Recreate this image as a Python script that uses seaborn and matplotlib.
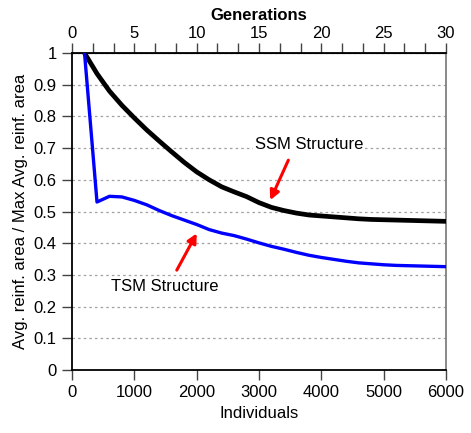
import numpy as np
import pandas as pd
import matplotlib
matplotlib.use("Agg")
import matplotlib.pyplot as plt
import seaborn as sns
from matplotlib.ticker import MultipleLocator, FixedLocator, FuncFormatter

# Individuals evaluated (one generation = 200 individuals)
individuals = [200, 400, 600, 800, 1000, 1200, 1400, 1600, 1800, 2000,
               2200, 2400, 2600, 2800, 3000, 3200, 3400, 3600, 3800, 4000,
               4200, 4400, 4600, 4800, 5000, 5200, 5400, 5600, 5800, 6000]

ssm_ratio = [1.000, 0.935, 0.880, 0.835, 0.795, 0.757, 0.722, 0.688, 0.655, 0.625,
             0.600, 0.578, 0.562, 0.547, 0.528, 0.513, 0.503, 0.495, 0.489, 0.486,
             0.483, 0.480, 0.477, 0.475, 0.474, 0.473, 0.472, 0.471, 0.470, 0.469]

tsm_ratio = [1.000, 0.530, 0.548, 0.546, 0.535, 0.521, 0.503, 0.487, 0.473, 0.459,
             0.443, 0.432, 0.424, 0.413, 0.401, 0.390, 0.381, 0.371, 0.362, 0.355,
             0.349, 0.343, 0.338, 0.335, 0.332, 0.330, 0.329, 0.328, 0.327, 0.326]

series_names = ["SSM Structure", "TSM Structure"]
generation_ticks = [0, 5, 10, 15, 20, 25, 30]
individuals_per_generation = 200

df = pd.DataFrame({
    "Individuals": individuals * 2,
    "ratio": ssm_ratio + tsm_ratio,
    "structure": [series_names[0]] * len(individuals) + [series_names[1]] * len(individuals),
})

sns.set_style("white")
plt.rcParams["font.family"] = ["Liberation Sans", "DejaVu Sans"]
plt.rcParams["text.color"] = "black"
plt.rcParams["axes.labelcolor"] = "black"
plt.rcParams["xtick.color"] = "black"
plt.rcParams["ytick.color"] = "black"

fig = plt.figure(figsize=(4.71, 4.33), dpi=100)
ax = fig.add_axes([0.153, 0.1455, 0.794, 0.732])

# Dotted horizontal grid
for yv in np.arange(0.1, 1.0001, 0.1):
    ax.axhline(yv, color="#a0a0a0", lw=0.9, ls=(0, (2, 2.5)), zorder=0)

sns.lineplot(data=df[df.structure == series_names[0]], x="Individuals", y="ratio",
             color="black", lw=3.4, ax=ax, legend=False, zorder=3)
sns.lineplot(data=df[df.structure == series_names[1]], x="Individuals", y="ratio",
             color="#0000ff", lw=2.4, ax=ax, legend=False, zorder=3)

ax.set_xlim(0, 6000)
ax.set_ylim(0, 1)
ax.xaxis.set_major_locator(MultipleLocator(1000))
ax.yaxis.set_major_locator(MultipleLocator(0.1))
ax.yaxis.set_major_formatter(FuncFormatter(lambda v, p: f"{v:g}"))
ax.tick_params(axis="both", direction="out", length=7, width=1, labelsize=12,
               color="#444444", pad=4, left=True, bottom=True)
ax.set_xlabel("Individuals", fontsize=12)
ax.set_ylabel("Avg. reinf. area / Max Avg. reinf. area", fontsize=12)

for side in ["left", "bottom", "top"]:
    ax.spines[side].set_color("black")
    ax.spines[side].set_linewidth(1.3)
ax.spines["right"].set_color("#808080")
ax.spines["right"].set_linewidth(1.3)

# Generations on the top axis
top = ax.secondary_xaxis("top", functions=(lambda x: x / individuals_per_generation,
                                            lambda g: g * individuals_per_generation))
top.xaxis.set_major_locator(FixedLocator(generation_ticks))
top.xaxis.set_major_formatter(FuncFormatter(lambda v, p: f"{v:g}"))
top.xaxis.set_minor_locator(FixedLocator(np.arange(0, 30.01, 5 / 3)))
top.tick_params(which="both", direction="out", length=7, width=1, color="#444444",
                labelsize=12, pad=2)
top.set_xlabel("Generations", fontsize=12, fontweight="bold", labelpad=4)
top.spines["top"].set_color("black")

# Annotations
arrow = dict(arrowstyle="-|>,head_length=0.55,head_width=0.28", color="red",
             lw=2.2, shrinkA=0, shrinkB=0)
ax.annotate("", xy=(3180, 0.536), xytext=(3470, 0.662), arrowprops=arrow)
ax.text(3800, 0.71, series_names[0], fontsize=12, ha="center", va="center",
        bbox=dict(facecolor="white", edgecolor="none", pad=1))
ax.annotate("", xy=(2000, 0.431), xytext=(1680, 0.315), arrowprops=arrow)
ax.text(1490, 0.262, series_names[1], fontsize=12, ha="center", va="center",
        bbox=dict(facecolor="white", edgecolor="none", pad=1))

fig.savefig("out.png", dpi=100)
